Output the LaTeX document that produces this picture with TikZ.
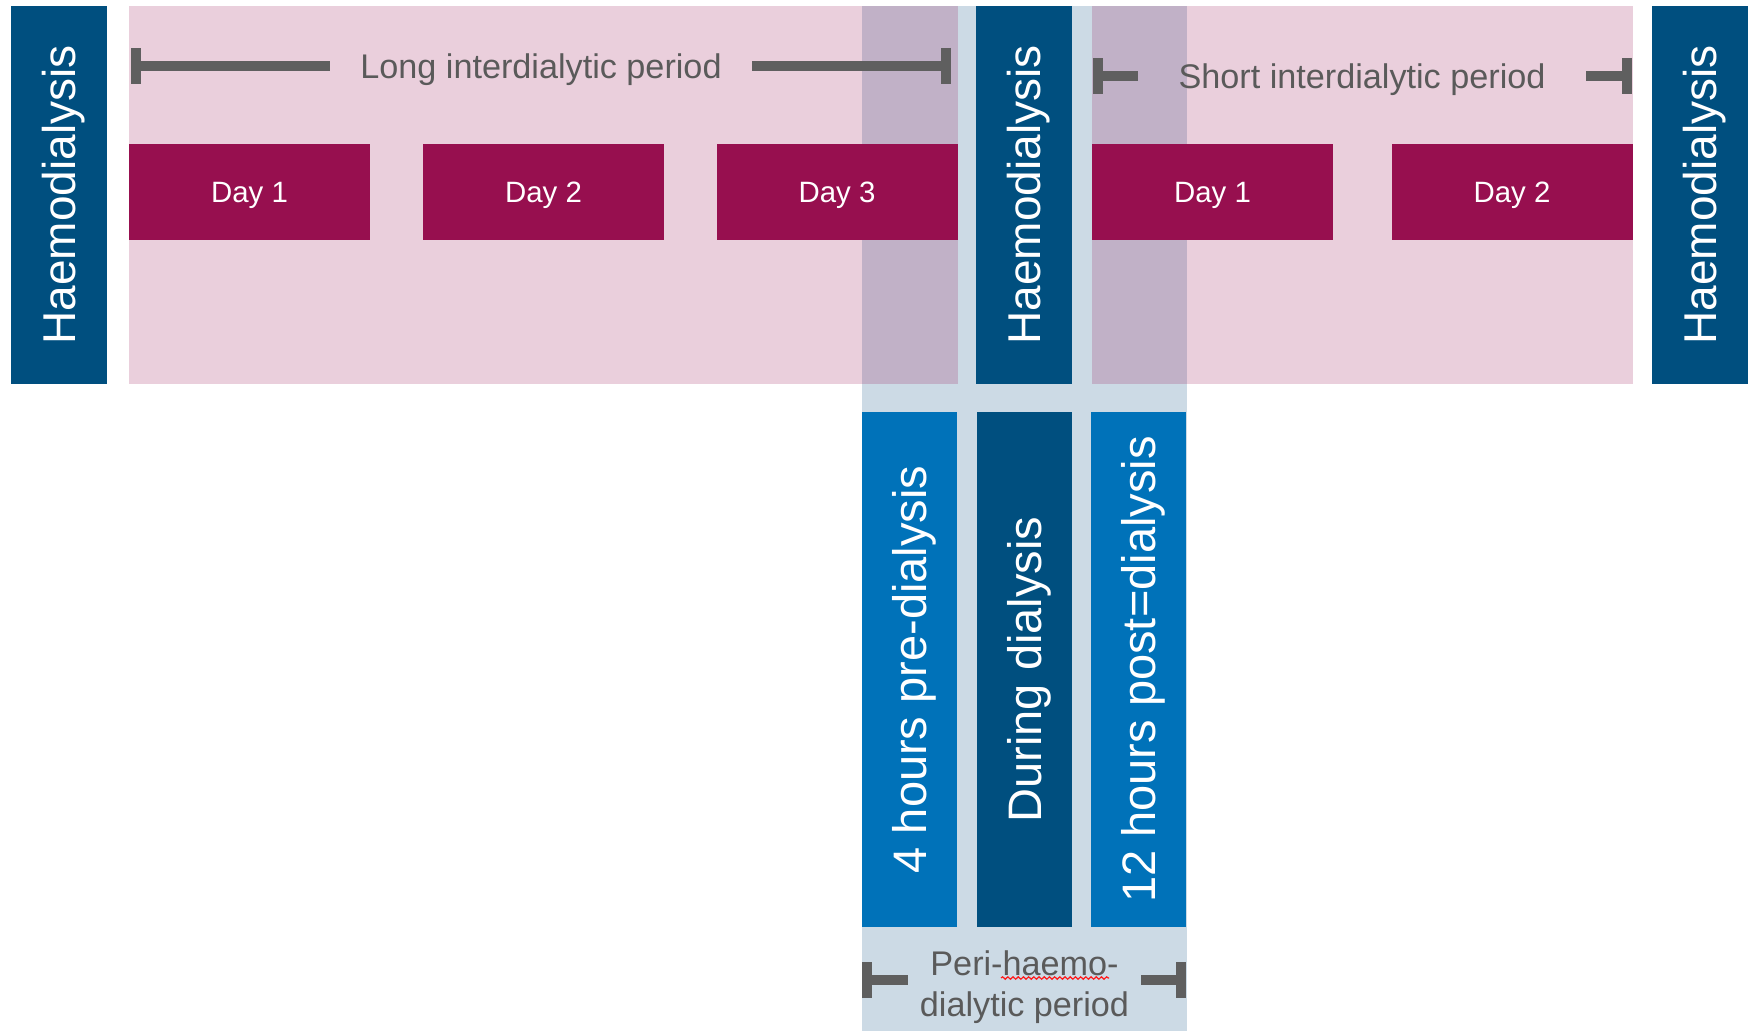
\documentclass[tikz,border=0pt]{standalone}
\usepackage{fontspec}
\setmainfont{Liberation Sans}
\usetikzlibrary{arrows.meta,decorations.pathmorphing}

\definecolor{hdblue}{RGB}{0,79,127}
\definecolor{phblue}{RGB}{0,114,185}
\definecolor{daycrimson}{RGB}{151,15,79}
\definecolor{perifill}{RGB}{204,218,229}
\definecolor{brackgray}{RGB}{95,95,95}

\begin{document}
\begin{tikzpicture}
        [x=0.5pt, y=-0.5pt,
        box/.style={rectangle, inner sep=0pt, outer sep=0pt, text depth=0pt},
        hd/.style={box, fill=hdblue, minimum width=189pt, minimum height=48pt, text=white, rotate=90, font=\fontsize{23}{27}\selectfont},
        day/.style={box, fill=daycrimson, minimum width=120.5pt, minimum height=48pt, text=white, font=\fontsize{14.7}{17}\selectfont},
        phase/.style={box, minimum width=257.5pt, minimum height=47.5pt, text=white, rotate=90, font=\fontsize{23.5}{27}\selectfont},
        band/.style={box, fill=daycrimson, fill opacity=0.2, minimum height=189pt},
        label/.style={box, text=brackgray!95!black, font=\fontsize{17.1}{20.5}\selectfont},
        bracket/.style={brackgray, line width=5pt, {Bar[width=18pt]}-}]

        \useasboundingbox (0,0) rectangle (1748,1031);

        % light blue column behind the dialysis session
        \node[box, fill=perifill, minimum width=162.5pt, minimum height=512.5pt] (peri) at (1024.5,518.5) {};

        % interdialytic periods
        \node[band, minimum width=414.5pt] (longband) at (543.5,195) {};
        \node[band, minimum width=270.5pt] (shortband) at (1362.5,195) {};

        \node[day] (ld1) at (249.5,192) {Day 1};
        \node[day] (ld2) at (543.5,192) {Day 2};
        \node[day] (ld3) at (837,192) {Day 3};
        \node[day] (sd1) at (1212.5,192) {Day 1};
        \node[day] (sd2) at (1512,192) {Day 2};

        % haemodialysis sessions
        \node[hd] (hdL) at (59,195) {Haemodialysis};
        \node[hd] (hdM) at (1024,195) {Haemodialysis};
        \node[hd] (hdR) at (1700,195) {Haemodialysis};

        % peri-haemodialytic phases
        \node[phase, fill=phblue] (pre) at (909.5,669.5) {4 hours pre-dialysis};
        \node[phase, fill=hdblue] (during) at (1024,669.5) {During dialysis};
        \node[phase, fill=phblue] (post) at (1138.5,669.5) {12 hours post=dialysis};

        % brackets
        \node[label, minimum width=211pt] (longtxt) at (541,66) {Long interdialytic period};
        \coordinate (longL) at (131,66);
        \coordinate (longR) at (951,66);
        \draw[bracket] (longL) -- (longtxt.west);
        \draw[bracket] (longR) -- (longtxt.east);

        \node[label, minimum width=224pt] (shorttxt) at (1362,76) {Short interdialytic period};
        \coordinate (shortL) at (1093,76);
        \coordinate (shortR) at (1632,76);
        \draw[bracket] (shortL) -- (shorttxt.west);
        \draw[bracket] (shortR) -- (shorttxt.east);

        \node[label, minimum width=116.5pt, align=center] (peritxt) at (1024.5,984) {Peri-haemo-\\dialytic period};
        \coordinate (periL) at (862,980);
        \coordinate (periR) at (1186,980);
        \draw[bracket] (periL) -- (periL -| peritxt.west);
        \draw[bracket] (periR) -- (periR -| peritxt.east);

        % spell-check mark under "haemo"
        \draw[red!90!white, line width=0.6pt, decorate, decoration={snake, amplitude=0.6pt, segment length=2.6pt}]
            (1001,978) -- (1109,978);
    \end{tikzpicture}
\end{document}
